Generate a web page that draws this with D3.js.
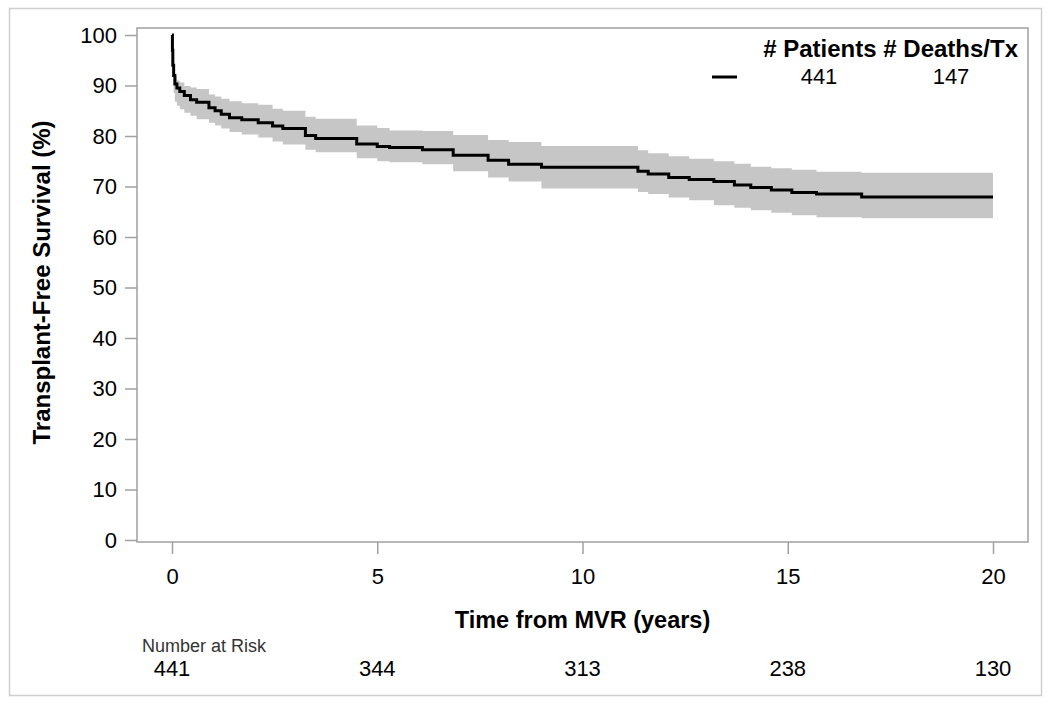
<!DOCTYPE html>
<html>
<head>
<meta charset="utf-8">
<script src="https://cdn.jsdelivr.net/npm/d3@7"></script>
<style>
  body { margin: 0; background: #fff; }
  svg { display: block; font-family: "Liberation Sans", Arial, sans-serif; }
</style>
</head>
<body>
<svg id="chart" width="1050" height="705"></svg>
<script>
// KM estimate of transplant-free survival
const years    = [0, 0.01, 0.02, 0.04, 0.07, 0.12, 0.19, 0.3, 0.45, 0.6, 0.9, 1.05, 1.2, 1.4, 1.7, 2.1, 2.45, 2.7, 3.25, 3.5, 4.5, 5.0, 5.3, 6.1, 6.85, 7.7, 8.2, 9.0, 11.35, 11.6, 12.1, 12.6, 13.2, 13.7, 14.1, 14.6, 15.1, 15.7, 16.8, 20];
const survival = [100, 97, 94, 92, 90.3, 89.5, 88.8, 88.0, 87.2, 86.7, 85.6, 85.0, 84.3, 83.6, 83.2, 82.6, 82.0, 81.5, 80.1, 79.5, 78.4, 77.9, 77.7, 77.3, 76.2, 75.2, 74.4, 73.8, 73.0, 72.5, 71.8, 71.4, 71.0, 70.3, 69.8, 69.3, 68.8, 68.5, 67.9, 67.9];
const lowerCI  = [null, null, null, 88.5, 86.8, 86.0, 85.3, 84.6, 84.0, 83.3, 82.6, 82.1, 81.5, 80.8, 80.3, 79.7, 78.9, 78.3, 77.3, 76.8, 75.6, 75.0, 74.8, 74.4, 73.0, 71.8, 71.0, 69.6, 68.9, 68.5, 67.8, 67.3, 66.3, 65.8, 65.3, 64.8, 64.3, 63.9, 63.7, 63.7];
const upperCI  = [null, null, null, 92.6, 91.8, 91.0, 90.6, 89.9, 89.6, 89.3, 88.2, 87.8, 87.4, 86.9, 86.5, 86.2, 85.4, 85.0, 83.8, 83.4, 82.1, 81.6, 81.1, 81.0, 80.2, 79.2, 78.8, 78.0, 77.2, 76.6, 76.0, 75.5, 75.0, 74.5, 73.9, 73.6, 73.3, 72.9, 72.7, 72.7];

const xTicks = [0, 5, 10, 15, 20];
const yTicks = [0, 10, 20, 30, 40, 50, 60, 70, 80, 90, 100];
const atRisk = [441, 344, 313, 238, 130];
const legendPatients = 441;
const legendEvents = 147;

const svg = d3.select("#chart");

// outer light border
svg.append("rect")
  .attr("x", 9.5).attr("y", 8.5).attr("width", 1032).attr("height", 687)
  .attr("fill", "none").attr("stroke", "#cfcfcf").attr("stroke-width", 1.5);

const frame = { left: 137, right: 1028, top: 28, bottom: 542 };

const x = d3.scaleLinear().domain([0, 20]).range([172, 993]);
const y = d3.scaleLinear().domain([0, 100]).range([540, 35]);

const rows = years.map((t, i) => ({ t, s: survival[i], lo: lowerCI[i], hi: upperCI[i] }));

// confidence band
const band = d3.area()
  .defined(d => d.lo != null)
  .curve(d3.curveStepAfter)
  .x(d => x(d.t))
  .y0(d => y(d.lo))
  .y1(d => y(d.hi));

svg.append("path")
  .datum(rows)
  .attr("d", band)
  .attr("fill", "#c6c6c6");

// survival curve
const line = d3.line()
  .curve(d3.curveStepAfter)
  .x(d => x(d.t))
  .y(d => y(d.s));

svg.append("path")
  .datum(rows)
  .attr("d", line)
  .attr("fill", "none")
  .attr("stroke", "#000")
  .attr("stroke-width", 3);

// plot frame
svg.append("rect")
  .attr("x", frame.left).attr("y", frame.top)
  .attr("width", frame.right - frame.left).attr("height", frame.bottom - frame.top)
  .attr("fill", "none").attr("stroke", "#a0a0a0").attr("stroke-width", 1.5);

// y axis
const yAxis = svg.append("g")
  .attr("transform", `translate(${frame.left},0)`)
  .call(d3.axisLeft(y).tickValues(yTicks).tickSize(12).tickSizeOuter(0).tickPadding(8));
yAxis.select(".domain").remove();
yAxis.selectAll(".tick line").attr("stroke", "#a0a0a0").attr("stroke-width", 1.5);
yAxis.selectAll(".tick text")
  .attr("fill", "#000").style("font-size", "22px").style("font-family", "'Liberation Sans', Arial, sans-serif");

// x axis
const xAxis = svg.append("g")
  .attr("transform", `translate(0,${frame.bottom})`)
  .call(d3.axisBottom(x).tickValues(xTicks).tickSize(12).tickSizeOuter(0).tickPadding(14));
xAxis.select(".domain").remove();
xAxis.selectAll(".tick line").attr("stroke", "#a0a0a0").attr("stroke-width", 1.5);
xAxis.selectAll(".tick text")
  .attr("fill", "#000").style("font-size", "22px").style("font-family", "'Liberation Sans', Arial, sans-serif");

// axis titles
svg.append("text")
  .attr("transform", `translate(50,${(118 + 447) / 2}) rotate(-90)`)
  .attr("text-anchor", "middle")
  .style("font-size", "24px").style("font-weight", "bold")
  .text("Transplant-Free Survival (%)");

svg.append("text")
  .attr("x", x(10)).attr("y", 628)
  .attr("text-anchor", "middle")
  .style("font-size", "23.5px").style("font-weight", "bold")
  .text("Time from MVR (years)");

// number at risk
svg.append("text")
  .attr("x", 142).attr("y", 652)
  .style("font-size", "18px").attr("fill", "#333")
  .text("Number at Risk");

svg.append("g").selectAll("text")
  .data(atRisk)
  .join("text")
  .attr("x", (d, i) => x(xTicks[i]))
  .attr("y", 676)
  .attr("text-anchor", "middle")
  .style("font-size", "22px")
  .text(d => d);

// legend
svg.append("text")
  .attr("x", 1018).attr("y", 57)
  .attr("text-anchor", "end")
  .style("font-size", "24px").style("font-weight", "bold")
  .text("# Patients # Deaths/Tx");

svg.append("line")
  .attr("x1", 712).attr("x2", 737).attr("y1", 77).attr("y2", 77)
  .attr("stroke", "#000").attr("stroke-width", 3);

svg.append("text")
  .attr("x", 819).attr("y", 84).attr("text-anchor", "middle")
  .style("font-size", "22px").text(legendPatients);

svg.append("text")
  .attr("x", 951).attr("y", 84).attr("text-anchor", "middle")
  .style("font-size", "22px").text(legendEvents);
</script>
</body>
</html>
